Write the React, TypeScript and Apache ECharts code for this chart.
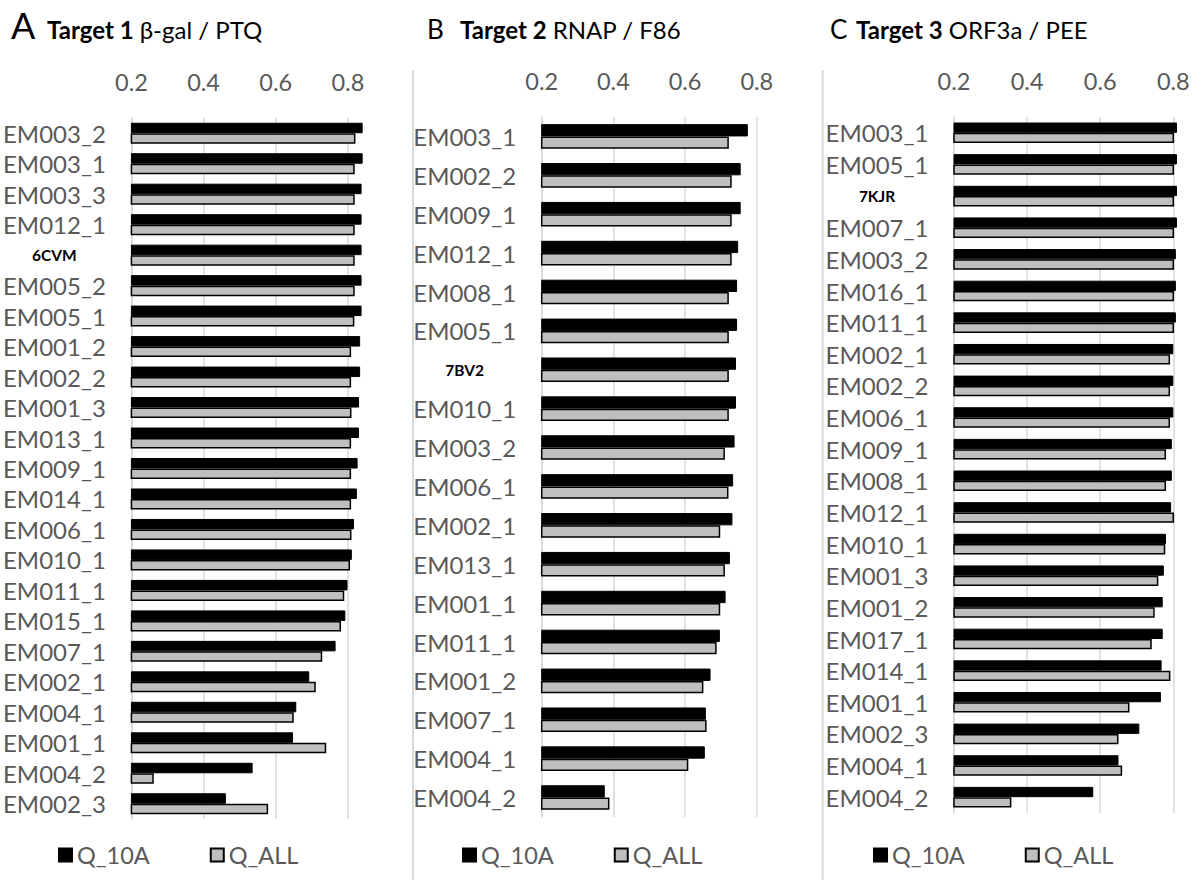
import React, { useEffect, useRef } from 'react';
import * as echarts from 'echarts';

const seriesNames = ['Q_10A', 'Q_ALL'];
const tickValues = [0.2, 0.4, 0.6, 0.8];
const pdbLabels = ['6CVM', '7BV2', '7KJR'];

const titleLetters = ['A', 'B', 'C'];
const titleBold = ['Target 1', 'Target 2', 'Target 3'];
const titleRest = ['β-gal / PTQ', 'RNAP / F86', 'ORF3a / PEE'];

const catsA = ['EM003_2', 'EM003_1', 'EM003_3', 'EM012_1', '6CVM', 'EM005_2', 'EM005_1', 'EM001_2', 'EM002_2', 'EM001_3', 'EM013_1', 'EM009_1', 'EM014_1', 'EM006_1', 'EM010_1', 'EM011_1', 'EM015_1', 'EM007_1', 'EM002_1', 'EM004_1', 'EM001_1', 'EM004_2', 'EM002_3'];
const q10A_A = [0.841, 0.841, 0.838, 0.838, 0.838, 0.838, 0.838, 0.834, 0.834, 0.831, 0.831, 0.827, 0.825, 0.817, 0.811, 0.799, 0.793, 0.766, 0.693, 0.657, 0.648, 0.536, 0.462];
const qAll_A = [0.821, 0.819, 0.819, 0.819, 0.819, 0.819, 0.818, 0.809, 0.809, 0.81, 0.809, 0.809, 0.809, 0.81, 0.806, 0.79, 0.781, 0.729, 0.711, 0.65, 0.74, 0.262, 0.579];

const catsB = ['EM003_1', 'EM002_2', 'EM009_1', 'EM012_1', 'EM008_1', 'EM005_1', '7BV2', 'EM010_1', 'EM003_2', 'EM006_1', 'EM002_1', 'EM013_1', 'EM001_1', 'EM011_1', 'EM001_2', 'EM007_1', 'EM004_1', 'EM004_2'];
const q10A_B = [0.775, 0.755, 0.755, 0.748, 0.745, 0.745, 0.742, 0.742, 0.738, 0.734, 0.732, 0.725, 0.713, 0.697, 0.671, 0.658, 0.655, 0.376];
const qAll_B = [0.722, 0.73, 0.73, 0.73, 0.722, 0.722, 0.722, 0.722, 0.711, 0.721, 0.698, 0.711, 0.698, 0.688, 0.651, 0.66, 0.609, 0.389];

const catsC = ['EM003_1', 'EM005_1', '7KJR', 'EM007_1', 'EM003_2', 'EM016_1', 'EM011_1', 'EM002_1', 'EM002_2', 'EM006_1', 'EM009_1', 'EM008_1', 'EM012_1', 'EM010_1', 'EM001_3', 'EM001_2', 'EM017_1', 'EM014_1', 'EM001_1', 'EM002_3', 'EM004_1', 'EM004_2'];
const q10A_C = [0.81, 0.81, 0.81, 0.81, 0.807, 0.807, 0.807, 0.8, 0.8, 0.8, 0.796, 0.796, 0.794, 0.78, 0.774, 0.771, 0.771, 0.768, 0.766, 0.707, 0.65, 0.581];
const qAll_C = [0.802, 0.802, 0.802, 0.802, 0.802, 0.802, 0.802, 0.791, 0.791, 0.791, 0.78, 0.78, 0.802, 0.778, 0.759, 0.749, 0.741, 0.792, 0.68, 0.65, 0.66, 0.357];

const FONT = 'Lato';
const GRAY_TEXT = '#595959';
const GRID_LINE = '#d9d9d9';

const panels = [
  { cats: catsA, a: q10A_A, b: qAll_A, left: 129.3, top: 118, width: 236.6, height: 701, max: 0.85, barWidth: 10.5, legendLeft: 53, titleX: 11, restX: 47, letterSize: 36 },
  { cats: catsB, a: q10A_B, b: qAll_B, left: 541.7, top: 117, width: 215.1, height: 700, max: 0.8, barWidth: 12.3, legendLeft: 457, titleX: 427, restX: 460, letterSize: 26 },
  { cats: catsC, a: q10A_C, b: qAll_C, left: 954, top: 117, width: 237.6, height: 696, max: 0.85, barWidth: 10.3, legendLeft: 868, titleX: 830, restX: 856, letterSize: 26 },
];

export default function App() {
  const ref = useRef<HTMLDivElement>(null);
  useEffect(() => {
    if (!ref.current) return;
    const chart = echarts.init(ref.current, null, { renderer: 'svg' });
    const grid: any[] = [];
    const xAxis: any[] = [];
    const yAxis: any[] = [];
    const series: any[] = [];
    const legend: any[] = [];
    const graphic: any[] = [];

    panels.forEach((p, i) => {
      grid.push({ left: p.left, top: p.top, width: p.width, height: p.height, containLabel: false });
      xAxis.push({
        type: 'value',
        gridIndex: i,
        position: 'top',
        min: 0.2,
        max: p.max,
        interval: 0.2,
        axisLine: { show: false },
        axisTick: { show: false, customValues: tickValues },
        axisLabel: {
          customValues: tickValues,
          formatter: (v: number) => v.toFixed(1),
          fontSize: 23.5,
          fontFamily: FONT,
          color: GRAY_TEXT,
          margin: 24,
        },
        splitLine: { show: true, lineStyle: { color: GRID_LINE, width: 1.5 } },
      });
      yAxis.push({
        type: 'category',
        gridIndex: i,
        data: p.cats,
        inverse: true,
        axisLine: { show: true, lineStyle: { color: GRID_LINE, width: 1.5 } },
        axisTick: { show: false },
        splitLine: { show: false },
        axisLabel: {
          interval: 0,
          margin: 26,
          formatter: (v: string) => (pdbLabels.includes(v) ? `{b|${v}}` : `{a|${v}}`),
          rich: {
            a: { fontSize: 24, fontFamily: FONT, color: GRAY_TEXT, width: 102, align: 'center' },
            b: { fontSize: 15.5, fontFamily: FONT, fontWeight: 'bold', color: '#000', width: 102, align: 'center' },
          },
        },
      });
      series.push({
        type: 'bar',
        name: seriesNames[0],
        xAxisIndex: i,
        yAxisIndex: i,
        data: p.a,
        barWidth: p.barWidth,
        barGap: '0%',
        itemStyle: { color: '#000000', borderColor: '#000000', borderWidth: 1 },
      });
      series.push({
        type: 'bar',
        name: seriesNames[1],
        xAxisIndex: i,
        yAxisIndex: i,
        data: p.b,
        barWidth: p.barWidth,
        barGap: '0%',
        itemStyle: { color: '#bfbfbf', borderColor: '#000000', borderWidth: 1.5 },
      });
      legend.push({
        data: seriesNames,
        left: p.legendLeft,
        top: 838,
        icon: 'rect',
        itemWidth: 13,
        itemHeight: 13,
        itemGap: 60,
        textStyle: { fontSize: 23.5, fontFamily: FONT, color: GRAY_TEXT },
      });
      graphic.push({
        type: 'text',
        x: p.titleX,
        y: 38 - p.letterSize * 0.36,
        style: { text: titleLetters[i], fontSize: p.letterSize, fontFamily: FONT, fill: '#000', verticalAlign: 'middle' },
      });
      graphic.push({
        type: 'text',
        x: p.restX,
        y: 38 - 24 * 0.36,
        style: {
          text: `{b|${titleBold[i]}} {n|${titleRest[i]}}`,
          verticalAlign: 'middle',
          rich: {
            b: { fontSize: 24, fontFamily: FONT, fontWeight: 'bold', fill: '#000' },
            n: { fontSize: 24, fontFamily: FONT, fill: '#000' },
          },
          fontSize: 24,
          fontFamily: FONT,
        },
      });
    });

    graphic.push({ type: 'line', shape: { x1: 413, y1: 70, x2: 413, y2: 880 }, style: { stroke: GRID_LINE, lineWidth: 2 } });
    graphic.push({ type: 'line', shape: { x1: 822.7, y1: 70, x2: 822.7, y2: 880 }, style: { stroke: GRID_LINE, lineWidth: 2 } });

    chart.setOption({
      animation: false,
      backgroundColor: '#ffffff',
      grid,
      xAxis,
      yAxis,
      series,
      legend,
      graphic,
    });
    return () => chart.dispose();
  }, []);
  return <div ref={ref} style={{ position: 'absolute', left: 0, top: 0, width: 1195, height: 880 }} />;
}
